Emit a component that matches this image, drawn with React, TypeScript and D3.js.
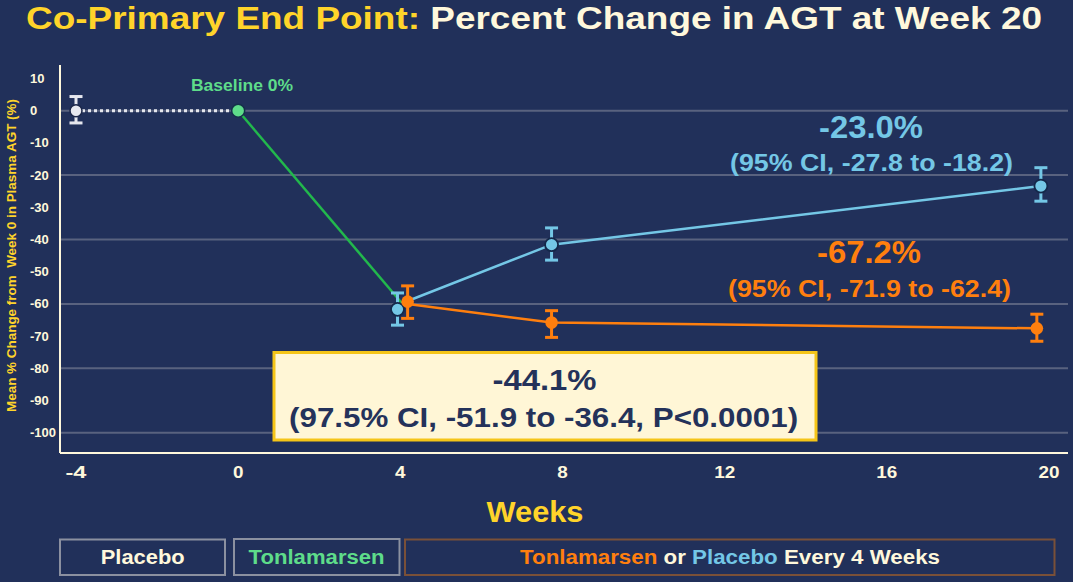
import React from "react";
import * as d3 from "d3";

const W = 1073;
const H = 582;

const xTicks = [-4, 0, 4, 8, 12, 16, 20];
const yTicks = [10, 0, -10, -20, -30, -40, -50, -60, -70, -80, -90, -100];
const gridValues = [0, -20, -40, -60, -80, -100];

// Placebo lead-in (week -4 to 0)
const placeboWeeks = [-4, 0];
const placeboValues = [0, 0];
const placeboErrLo = [-3.8];
const placeboErrHi = [4.4];

// Tonlamarsen (week 0 to 4)
const tonWeeks = [0, 4.04];
const tonValues = [0, -59.8];

// Tonlamarsen every 4 weeks (orange)
const tonQ4Weeks = [4.18, 7.73, 19.7];
const tonQ4Values = [-59.3, -65.8, -67.6];
const tonQ4Lo = [-64.5, -70.4, -71.6];
const tonQ4Hi = [-54.4, -62.1, -63.2];

// Placebo every 4 weeks (blue)
const plaQ4Weeks = [3.93, 7.73, 19.8];
const plaQ4Values = [-61.7, -41.6, -23.4];
const plaQ4Lo = [-66.6, -46.4, -28.1];
const plaQ4Hi = [-56.6, -36.4, -17.7];

const BG = "#21305a";
const CREAM = "#fff8dc";
const YELLOW = "#ffd42a";
const ORANGE = "#ff7f0e";
const BLUE = "#74c7e6";
const GREEN_LINE = "#22b84c";
const GREEN_TXT = "#5edc8a";
const PLACEBO = "#e6e7ee";
const NAVY_TXT = "#24325a";
const FONT = "'Liberation Sans', Arial, sans-serif";

type TProps = {
  x: number;
  y: number;
  len?: number;
  size: number;
  anchor?: "start" | "middle" | "end";
  fill?: string;
  children: React.ReactNode;
};

function T({ x, y, len, size, anchor = "middle", fill, children }: TProps) {
  return (
    <text
      x={x}
      y={y}
      fontSize={size}
      textAnchor={anchor}
      fill={fill}
      textLength={len}
      lengthAdjust={len ? "spacingAndGlyphs" : undefined}
    >
      {children}
    </text>
  );
}

export default function App() {
  const x = d3.scaleLinear().domain([-4, 20]).range([76, 1049]);
  const y = d3.scaleLinear().domain([0, -100]).range([110.7, 432.7]);
  const xLeft = 60;
  const xRight = 1068;
  const yTop = 65;
  const yBottom = 453;

  const line = d3
    .line<[number, number]>()
    .x((d) => x(d[0]))
    .y((d) => y(d[1]));

  const junction: [number, number] = [tonWeeks[1], tonValues[1]];
  const placeboPts = placeboWeeks.map((w, i) => [w, placeboValues[i]] as [number, number]);
  const tonPts = tonWeeks.map((w, i) => [w, tonValues[i]] as [number, number]);
  const orangePts: [number, number][] = [
    junction,
    ...tonQ4Weeks.slice(1).map((w, i) => [w, tonQ4Values[i + 1]] as [number, number]),
  ];
  const bluePts: [number, number][] = [
    junction,
    ...plaQ4Weeks.slice(1).map((w, i) => [w, plaQ4Values[i + 1]] as [number, number]),
  ];

  const errBar = (cx: number, lo: number, hi: number, color: string, key: string) => (
    <g key={key} stroke={color} strokeWidth={3}>
      <line x1={cx} x2={cx} y1={y(hi)} y2={y(lo)} />
      <line x1={cx - 6.5} x2={cx + 6.5} y1={y(hi)} y2={y(hi)} />
      <line x1={cx - 6.5} x2={cx + 6.5} y1={y(lo)} y2={y(lo)} />
    </g>
  );

  return (
    <svg
      width={W}
      height={H}
      style={{ position: "absolute", left: 0, top: 0, background: BG }}
      fontFamily={FONT}
      fontWeight="bold"
    >
      <rect x={0} y={0} width={W} height={H} fill={BG} />

      {/* Title */}
      <text x={26} y={28.5} fontSize={32} textLength={1016} lengthAdjust="spacingAndGlyphs">
        <tspan fill={YELLOW}>Co-Primary End Point: </tspan>
        <tspan fill={CREAM}>Percent Change in AGT at Week 20</tspan>
      </text>

      {/* Gridlines */}
      {gridValues.map((v) => (
        <line key={"g" + v} x1={xLeft} x2={xRight} y1={y(v)} y2={y(v)} stroke="#59627f" strokeWidth={2} />
      ))}

      {/* Axes */}
      <line x1={xLeft} x2={xLeft} y1={yTop} y2={yBottom} stroke={CREAM} strokeWidth={2} />
      <line x1={xLeft} x2={xRight} y1={yBottom} y2={yBottom} stroke={CREAM} strokeWidth={2} />

      {/* Y tick labels */}
      {yTicks.map((v) => (
        <text key={"yt" + v} x={30} y={y(v) + 4.5} fontSize={13} fill={CREAM}>
          {v}
        </text>
      ))}

      {/* Y axis title */}
      <text
        transform={`translate(16, 255.5) rotate(-90)`}
        textAnchor="middle"
        fontSize={12.5}
        fill={YELLOW}
        textLength={313}
        lengthAdjust="spacingAndGlyphs"
        style={{ whiteSpace: "pre" }}
      >
        {"Mean % Change from  Week 0 in Plasma AGT (%)"}
      </text>

      {/* X tick labels */}
      {xTicks.map((v) => (
        <T key={"xt" + v} x={x(v)} y={478} size={17} fill={CREAM} len={String(v).length * 10.5}>
          {v}
        </T>
      ))}

      <T x={535} y={521.5} size={30} fill={YELLOW} len={97}>
        Weeks
      </T>

      {/* Lines */}
      <path d={line(placeboPts) || ""} fill="none" stroke={PLACEBO} strokeWidth={3} strokeDasharray="3 3" />
      <path d={line(tonPts) || ""} fill="none" stroke={GREEN_LINE} strokeWidth={2.5} />
      <path d={line(bluePts) || ""} fill="none" stroke={BLUE} strokeWidth={2.5} />
      <path d={line(orangePts) || ""} fill="none" stroke={ORANGE} strokeWidth={2.5} />

      {/* Placebo lead-in marker */}
      {errBar(x(placeboWeeks[0]), placeboErrLo[0], placeboErrHi[0], PLACEBO, "pe")}
      <circle cx={x(placeboWeeks[0])} cy={y(placeboValues[0])} r={6} fill={PLACEBO} stroke="#1a2548" strokeWidth={1.5} />

      {/* Baseline marker */}
      <circle cx={x(tonWeeks[0])} cy={y(tonValues[0])} r={6.5} fill={GREEN_TXT} stroke="#15304a" strokeWidth={1.5} />

      {/* Blue markers */}
      {plaQ4Weeks.map((w, i) => errBar(x(w), plaQ4Lo[i], plaQ4Hi[i], BLUE, "be" + i))}
      {plaQ4Weeks.map((w, i) => (
        <circle key={"bc" + i} cx={x(w)} cy={y(plaQ4Values[i])} r={6.5} fill={BLUE} stroke="#14284a" strokeWidth={1.8} />
      ))}

      {/* Orange markers */}
      {tonQ4Weeks.map((w, i) => errBar(x(w), tonQ4Lo[i], tonQ4Hi[i], ORANGE, "oe" + i))}
      {tonQ4Weeks.map((w, i) => (
        <circle key={"oc" + i} cx={x(w)} cy={y(tonQ4Values[i])} r={6.3} fill={ORANGE} />
      ))}

      {/* Annotations */}
      <T x={242} y={91} size={16.5} fill={GREEN_TXT} len={102}>
        Baseline 0%
      </T>

      <T x={871} y={137.5} size={32} fill={BLUE} len={104}>
        -23.0%
      </T>
      <T x={871.5} y={171} size={23} fill={BLUE} len={283}>
        (95% CI, -27.8 to -18.2)
      </T>

      <T x={869} y={263.3} size={32} fill={ORANGE} len={104}>
        -67.2%
      </T>
      <T x={869.5} y={296.5} size={23} fill={ORANGE} len={283}>
        (95% CI, -71.9 to -62.4)
      </T>

      {/* Difference box */}
      <rect x={274} y={352.5} width={542} height={87.5} fill="#fff6d6" stroke="#f5c518" strokeWidth={3} />
      <T x={544.5} y={390} size={29} fill={NAVY_TXT} len={104}>
        -44.1%
      </T>
      <T x={543.6} y={427.3} size={28} fill={NAVY_TXT} len={509}>
        (97.5% CI, -51.9 to -36.4, P&lt;0.0001)
      </T>

      {/* Legend boxes */}
      <rect x={60} y={539.5} width={165} height={35.5} fill="none" stroke="#8b90a0" strokeWidth={2} />
      <T x={142.7} y={564.3} size={20} fill={CREAM} len={84}>
        Placebo
      </T>

      <rect x={234} y={539} width={165.5} height={36} fill="none" stroke="#8b90a0" strokeWidth={2} />
      <T x={316.6} y={564.3} size={20} fill={GREEN_TXT} len={136}>
        Tonlamarsen
      </T>

      <rect x={405} y={539.5} width={649.5} height={35.5} fill="none" stroke="#7a5038" strokeWidth={2} />
      <text x={520} y={564.3} fontSize={20} textLength={420} lengthAdjust="spacingAndGlyphs">
        <tspan fill={ORANGE}>Tonlamarsen</tspan>
        <tspan fill={CREAM}> or </tspan>
        <tspan fill={BLUE}>Placebo</tspan>
        <tspan fill={CREAM}> Every 4 Weeks</tspan>
      </text>
    </svg>
  );
}
